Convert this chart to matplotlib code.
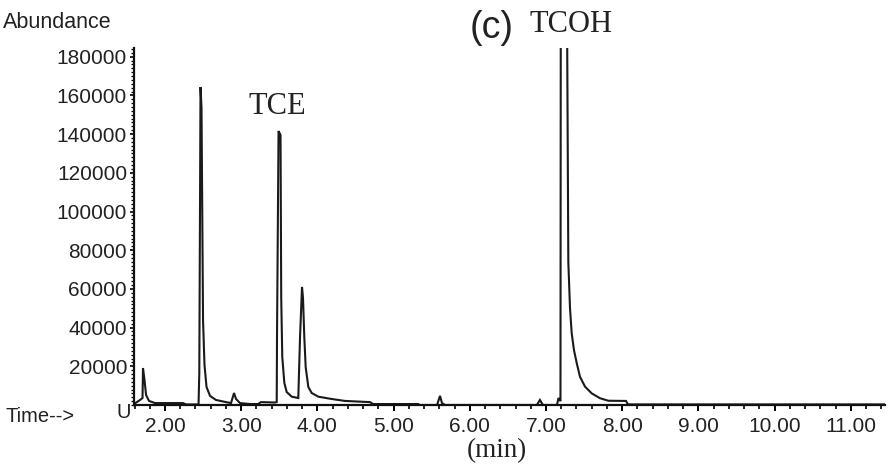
import numpy as np
import matplotlib.pyplot as plt
from matplotlib.ticker import MultipleLocator, FixedLocator

# Total ion chromatogram, read as (retention time [min], abundance) pairs
time_min = [
    1.593, 1.672, 1.705, 1.711, 1.731, 1.751, 1.790, 1.869, 2.236, 2.276,
    2.440, 2.450, 2.466, 2.479, 2.499, 2.518, 2.545, 2.591, 2.669, 2.800,
    2.866, 2.906, 2.932, 2.984, 3.115, 3.220, 3.260, 3.444, 3.466, 3.470,
    3.490, 3.516, 3.525, 3.539, 3.566, 3.597, 3.663, 3.749, 3.772, 3.798,
    3.811, 3.828, 3.846, 3.881, 3.925, 4.012, 4.188, 4.362, 4.690, 4.730,
    5.320, 5.346, 5.570, 5.609, 5.635, 5.674, 6.880, 6.920, 6.960, 7.144,
    7.164, 7.190, 7.196, 7.262, 7.293, 7.315, 7.337, 7.367, 7.403, 7.446,
    7.512, 7.600, 7.709, 7.818, 8.050, 8.076, 11.449,
]
abundance = [
    500, 2600, 3600, 19100, 12900, 5200, 2100, 1000, 1000, 300,
    300, 16500, 164300, 153500, 43900, 20700, 9300, 4700, 2600, 1500,
    1000, 6200, 3100, 1000, 500, 500, 1500, 1300, 1500, 36200,
    141600, 139500, 55800, 24800, 11400, 6700, 4300, 3600, 35100, 61000,
    55300, 35100, 19600, 9300, 6200, 4300, 3100, 2100, 1500, 500,
    500, 0, 0, 4700, 1000, 0, 0, 2600, 0, 0,
    3600, 2000, 310000, 310000, 73900, 50100, 37200, 28400, 21700, 14600,
    9500, 6000, 3500, 2200, 2100, 300, 300,
]

y_ticks = [20000, 40000, 60000, 80000, 100000, 120000, 140000, 160000, 180000]
x_ticks = [2, 3, 4, 5, 6, 7, 8, 9, 10, 11]

W, H = 890, 466
fig = plt.figure(figsize=(W / 100, H / 100), dpi=100)
ax = fig.add_axes([134 / W, (H - 405) / H, 751 / W, 357 / H])

ax.plot(time_min, abundance, color="#1a1a1a", linewidth=1.5, solid_joinstyle="miter")

ax.set_xlim(1.593, 11.449)
ax.set_ylim(0, 184500)

for side in ("top", "right"):
    ax.spines[side].set_visible(False)
for side in ("left", "bottom"):
    ax.spines[side].set_linewidth(1.6)
    ax.spines[side].set_color("#111111")

ax.yaxis.set_major_locator(FixedLocator(y_ticks))
ax.yaxis.set_minor_locator(MultipleLocator(2000))
ax.set_yticklabels([str(v) for v in y_ticks])
ax.xaxis.set_major_locator(FixedLocator(x_ticks))
ax.xaxis.set_minor_locator(MultipleLocator(0.2))
ax.set_xticklabels([f"{v:.2f}" for v in x_ticks])

for lab in ax.get_xticklabels() + ax.get_yticklabels():
    lab.set_fontfamily("Liberation Sans")
    lab.set_fontsize(15)
    lab.set_color("#222222")

ax.tick_params(axis="y", which="major", direction="out", length=3, width=1.2, pad=2)
ax.tick_params(axis="y", which="minor", direction="out", length=2, width=0.9)
ax.tick_params(axis="x", which="major", direction="out", length=4, width=1.4, pad=5)
ax.tick_params(axis="x", which="minor", direction="out", length=3, width=1.2)


def px_text(x, y, s, **kw):
    fig.text(x / W, 1 - y / H, s, **kw)


px_text(3, 22, "Abundance", family="Liberation Sans", fontsize=15.5,
        va="center", ha="left", color="#222222")
px_text(5, 416, "Time-->", family="Liberation Sans", fontsize=14.5,
        va="center", ha="left", color="#222222")
px_text(116, 413, "U", family="Liberation Sans", fontsize=14.5,
        va="center", ha="left", color="#222222")

# Peak annotations
px_text(249, 107, "TCE", family="Liberation Serif", fontsize=22,
        va="center", ha="left", color="#222222")
px_text(470, 28, "(c)", family="Liberation Sans", fontsize=27,
        va="center", ha="left", color="#222222")
px_text(529, 25, "TCOH", family="Liberation Serif", fontsize=22,
        va="center", ha="left", color="#222222")
px_text(497, 451, "(min)", family="Liberation Serif", fontsize=19.5,
        va="center", ha="center", color="#222222")

fig.savefig("out.png", dpi=100)
plt.close(fig)
